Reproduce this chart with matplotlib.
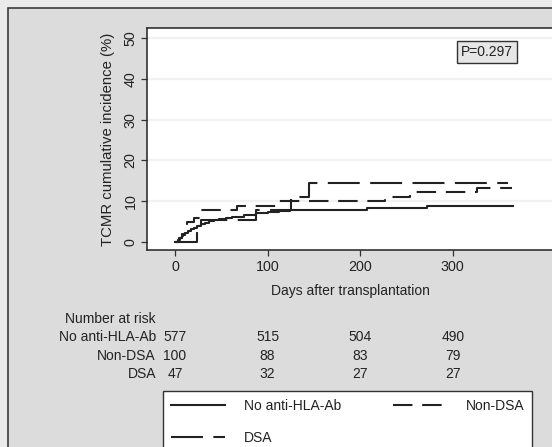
import matplotlib
matplotlib.use("Agg")
import matplotlib.pyplot as plt
from matplotlib.patches import Rectangle
from matplotlib.transforms import blended_transform_factory

plt.rcParams['font.family'] = ['Liberation Sans', 'DejaVu Sans']
plt.rcParams['lines.scale_dashes'] = False

# cumulative incidence curves (days, %)
no_ab_days = [0, 3, 5, 7, 9, 11, 14, 17, 20, 24, 28, 32, 37, 42, 48, 55, 62, 75, 88,
              100, 112, 124, 207, 240, 272, 365]
no_ab_pct = [0, 0.5, 1.0, 1.4, 1.8, 2.2, 2.7, 3.1, 3.5, 3.9, 4.3, 4.6, 5.0, 5.3, 5.6,
             5.9, 6.2, 6.5, 7.0, 7.3, 7.6, 7.9, 8.2, 8.4, 8.7, 8.7]

non_dsa_days = [0, 4, 8, 11, 13, 20, 27, 67, 111, 227, 254, 326, 364]
non_dsa_pct = [0, 1.0, 2.0, 3.0, 4.8, 5.8, 7.9, 8.9, 10.1, 11.1, 12.2, 13.3, 13.3]

dsa_days = [0, 24, 28, 88, 125, 145, 360]
dsa_pct = [0, 2.4, 5.3, 7.8, 11.1, 14.4, 14.4]

# number at risk table
risk_days = [0, 100, 200, 300]
risk_groups = ["No anti-HLA-Ab", "Non-DSA", "DSA"]
risk_counts = [[577, 515, 504, 490],
               [100, 88, 83, 79],
               [47, 32, 27, 27]]

p_text = "P=0.297"

W, H = 552, 447
fig = plt.figure(figsize=(W / 100, H / 100), dpi=100)
fig.patch.set_facecolor('#ebebeb')


def fx(px):
    return px / W


def fy(py):
    return 1 - py / H


# graph region panel
fig.patches.append(Rectangle((fx(8), fy(470)), fx(600), fy(8) - fy(470),
                             transform=fig.transFigure, facecolor='#dcdcdc',
                             edgecolor='#3c3c3c', linewidth=1.2, zorder=-5))

ax = fig.add_axes([fx(146.7), fy(250), fx(555) - fx(146.7), fy(28) - fy(250)])
ax.set_facecolor('white')
ax.set_xlim(-30.6, 410.5)
ax.set_ylim(-2.0, 52.5)

for v in [10, 20, 30, 40, 50]:
    ax.axhline(v, color='#f1f1f1', lw=1.6, zorder=0)

ink = '#222222'
ax.step(no_ab_days, no_ab_pct, where='post', color=ink, lw=1.5,
        label="No anti-HLA-Ab")
ax.step(non_dsa_days, non_dsa_pct, where='post', color=ink, lw=1.5,
        dashes=(14, 7), label="Non-DSA")
ax.step(dsa_days, dsa_pct, where='post', color=ink, lw=1.5,
        dashes=(23, 7.5), label="DSA")

for s in ['left', 'bottom', 'top']:
    ax.spines[s].set_color('#222222')
    ax.spines[s].set_linewidth(1.1)
ax.spines['right'].set_visible(False)

ax.set_xticks(risk_days)
ax.set_yticks([0, 10, 20, 30, 40, 50])
ax.tick_params(axis='both', length=4.5, width=0.9, color='#333333',
               labelsize=10.3, labelcolor=ink)
ax.tick_params(axis='x', pad=3)
ax.tick_params(axis='y', pad=2)
for lab in ax.get_yticklabels():
    lab.set_rotation(90)
    lab.set_va('center')

ax.set_xlabel("Days after transplantation", fontsize=10, color=ink, labelpad=7)
ax.set_ylabel("TCMR cumulative incidence (%)", fontsize=10.7, color=ink, labelpad=6)

ax.text(337, 46.6, p_text, ha='center', va='center', fontsize=10, color=ink,
        bbox=dict(boxstyle='square,pad=0.3', facecolor='#e6e6e6',
                  edgecolor='#333333', linewidth=1.0))

# number at risk below the axis
tr = blended_transform_factory(ax.transData, fig.transFigure)
fig.text(fx(156), fy(319), "Number at risk", ha='right', va='center',
         fontsize=10, color=ink)
row_y = [337, 356, 374]
for name, counts, py in zip(risk_groups, risk_counts, row_y):
    fig.text(fx(156), fy(py), name, ha='right', va='center', fontsize=10, color=ink)
    for d, n in zip(risk_days, counts):
        ax.text(d, fy(py), str(n), transform=tr, ha='center', va='center',
                fontsize=10, color=ink, clip_on=False)

# legend: row-major order across two columns
lines = {l.get_label(): l for l in ax.get_lines() if not l.get_label().startswith('_')}
order = ["No anti-HLA-Ab", "DSA", "Non-DSA"]
leg = fig.legend([lines[k] for k in order], order, ncol=2, loc='upper left',
                 bbox_to_anchor=(fx(163), fy(391)), fontsize=10,
                 frameon=True, fancybox=False, edgecolor='#333333', framealpha=1,
                 handlelength=3.9, handletextpad=1.35, labelspacing=1.3,
                 borderpad=0.55, borderaxespad=0, columnspacing=3.75)
leg.get_frame().set_linewidth(1.0)
leg.get_frame().set_facecolor('white')
for t in leg.get_texts():
    t.set_color(ink)

fig.savefig("out.png", dpi=100, facecolor=fig.get_facecolor())
